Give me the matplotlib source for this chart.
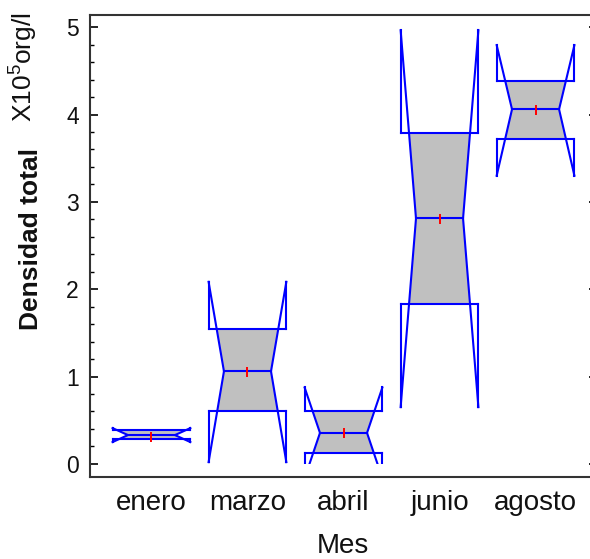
import matplotlib.pyplot as plt
from matplotlib.patches import Rectangle
from matplotlib.ticker import MultipleLocator

plt.rcParams['font.family'] = ['Liberation Sans', 'DejaVu Sans']
plt.rcParams['mathtext.default'] = 'regular'

# datos (densidad total, x10^5 org/l)
meses = ['enero', 'marzo', 'abril', 'junio', 'agosto']
mediana = [0.33, 1.06, 0.355, 2.81, 4.06]
q1 = [0.28, 0.605, 0.125, 1.83, 3.72]
q3 = [0.385, 1.545, 0.60, 3.79, 4.385]
muesca_inf = [0.25, 0.02, -0.165, 0.65, 3.30]
muesca_sup = [0.41, 2.085, 0.875, 4.965, 4.795]
media = [0.31, 1.055, 0.355, 2.80, 4.05]

azul = '#0000ff'
lw = 1.5

fig = plt.figure(figsize=(5.9, 5.59), dpi=100)
ax = fig.add_axes([90/590, 1-477/559, 507/590, 462/559])

ancho = 0.405   # media anchura de la caja
entrada = 0.16  # profundidad de la muesca
recorte = Rectangle((0, 0), 10, 10, transform=ax.transData)

for i in range(len(meses)):
    x = i + 1
    L, R = x - ancho, x + ancho
    lo, hi, med = muesca_inf[i], muesca_sup[i], mediana[i]
    e3 = entrada * (hi - q3[i]) / (hi - med)
    e1 = entrada * (q1[i] - lo) / (med - lo)
    ax.fill([L + e3, L + entrada, L + e1, R - e1, R - entrada, R - e3],
            [q3[i], med, q1[i], q1[i], med, q3[i]],
            color='#c0c0c0', lw=0, zorder=1)
    lineas = []
    lineas += ax.plot([L, L], [hi, q3[i]], [R, R], [hi, q3[i]],
                      [L, L], [q1[i], lo], [R, R], [q1[i], lo],
                      color=azul, lw=lw, zorder=2)
    lineas += ax.plot([L, R], [q3[i], q3[i]], [L, R], [q1[i], q1[i]],
                      color=azul, lw=lw, zorder=2)
    lineas += ax.plot([L, L + entrada, L], [hi, med, lo],
                      [R, R - entrada, R], [hi, med, lo],
                      color=azul, lw=lw, zorder=2)
    lineas += ax.plot([L + entrada, R - entrada], [med, med], color=azul, lw=lw, zorder=2)
    for ln in lineas:
        ln.set_clip_path(recorte)
    ax.plot(x, media[i], marker='|', color='red', ms=6.5, mew=1.4, zorder=3)

ax.set_xlim(0.36, 5.64)
ax.set_ylim(-0.15, 5.14)
ax.set_xticks(range(1, len(meses) + 1), meses)
ax.yaxis.set_major_locator(MultipleLocator(1))
ax.yaxis.set_minor_locator(MultipleLocator(0.2))
ax.tick_params(axis='x', length=0, labelsize=20, pad=9, labelcolor='#111111')
ax.tick_params(axis='y', which='major', direction='in', length=6, width=1.2,
               right=True, labelsize=16.5, pad=8, labelcolor='#111111')
ax.tick_params(axis='y', which='minor', direction='in', length=3, width=1, right=True)
for s in ax.spines.values():
    s.set_color('#333333')
    s.set_linewidth(1.5)

fig.text(343/590, 1-546/559, 'Mes', ha='center', va='center', fontsize=20, color='#111111')
fig.text(31/590, 1-239/559, 'Densidad total', rotation=90, ha='center', va='center',
         fontsize=19, fontweight='bold', color='#111111')
fig.text(24/590, 1-67/559, 'X10$^{5}$org/l', rotation=90, ha='center', va='center',
         fontsize=19, color='#111111')

fig.savefig('out.png', dpi=100)
